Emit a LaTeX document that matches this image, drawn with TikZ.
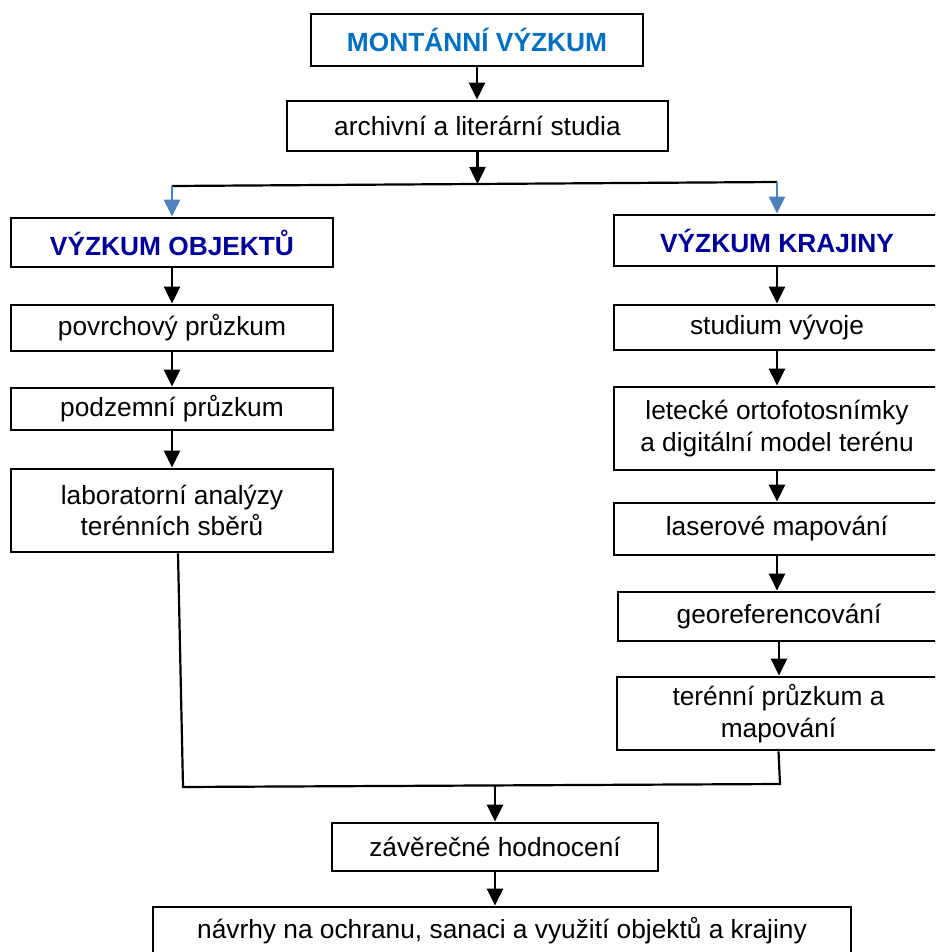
\documentclass[tikz,border=0pt]{standalone}
\usepackage{fontspec}
\setmainfont{Liberation Sans}
\usetikzlibrary{arrows.meta}
\definecolor{headblue}{RGB}{0,112,192}
\definecolor{navyblue}{RGB}{0,0,153}
\definecolor{arrblue}{RGB}{79,129,189}
\begin{document}
\begin{tikzpicture}[x=1pt,y=-1pt,
  box/.style={draw=black, line width=2.8pt, fill=white, inner sep=0pt, align=center,
    font=\fontsize{26.3pt}{31.5pt}\selectfont},
  headtop/.style={box, text=headblue, font=\fontsize{26.3pt}{31.5pt}\selectfont\bfseries},
  headsub/.style={box, text=navyblue, font=\fontsize{26.3pt}{31.5pt}\selectfont\bfseries},
  arr/.style={line width=2.5pt, -{Triangle[width=16pt,length=17pt]}},
  barr/.style={line width=2.5pt, draw=arrblue, -{Triangle[width=16pt,length=17pt]}, color=arrblue},
  link/.style={line width=2.2pt}]
\useasboundingbox (0,0) rectangle (935,952);
\fill[white] (0,0) rectangle (935,952);
\clip (0,0) rectangle (935,952);

\node[headtop, minimum width=332, minimum height=52] (top) at (477,40) {MONTÁNNÍ VÝZKUM};
\node[box, minimum width=381, minimum height=50] (arch) at (477.5,126) {archivní a literární studia};

\node[headsub, minimum width=322, minimum height=49] (objH) at (172,242.5) {VÝZKUM OBJEKTŮ};
\node[box, minimum width=322, minimum height=46] (pov) at (172,328) {povrchový průzkum};
\node[box, minimum width=322, minimum height=42] (pod) at (172,409) {podzemní průzkum};
\node[box, minimum width=322, minimum height=83] (lab) at (172,510.5) {laboratorní analýzy\\terénních sběrů};

\node[headsub, minimum width=326, minimum height=51] (krajH) at (777,240.5) {VÝZKUM KRAJINY};
\node[box, minimum width=326, minimum height=45] (stud) at (777,327.5) {studium vývoje};
\node[box, minimum width=326, minimum height=83] (let) at (777,428.5) {letecké ortofotosnímky\\a digitální model terénu};
\node[box, minimum width=326, minimum height=52] (las) at (777,529) {laserové mapování};
\node[box, minimum width=322, minimum height=49] (geo) at (779,616.5) {georeferencování};
\node[box, minimum width=323, minimum height=73] (ter) at (778.5,713.5) {terénní průzkum a\\mapování};

\node[box, minimum width=326, minimum height=48] (fin) at (495,847) {závěrečné hodnocení};
\node[box, minimum width=698, minimum height=48] (last) at (502,931) {návrhy na ochranu, sanaci a využití objektů a krajiny};

% top split
\coordinate (sL) at (172,186);
\coordinate (sR) at (777,182);
\draw[arr] (top.south) -- (top.south |- arch.north);
\draw[link] (sL) -- (sR);
\draw[arr] (arch.south) -- (arch.south |- 0,184);
\draw[barr] (sL) -- (objH.north);
\draw[barr] (sR) -- (krajH.north);

% left column
\draw[arr] (objH.south) -- (pov.north);
\draw[arr] (pov.south) -- (pod.north);
\draw[arr] (pod.south) -- (lab.north);

% right column
\draw[arr] (krajH.south) -- (krajH.south |- stud.north);
\draw[arr] (stud.south) -- (stud.south |- let.north);
\draw[arr] (let.south) -- (let.south |- las.north);
\draw[arr] (las.south) -- (las.south |- geo.north);
\draw[arr] (geo.south) -- (geo.south |- ter.north);

% merge
\coordinate (mL) at (183,787);
\coordinate (mR) at (780,784);
\draw[link, line join=miter] ([xshift=6pt]lab.south) -- (mL) -- (mR) -- (ter.south);
\draw[arr] (fin.north |- 0,786) -- (fin.north);
\draw[arr] (fin.south) -- (fin.south |- last.north);
\end{tikzpicture}
\end{document}
